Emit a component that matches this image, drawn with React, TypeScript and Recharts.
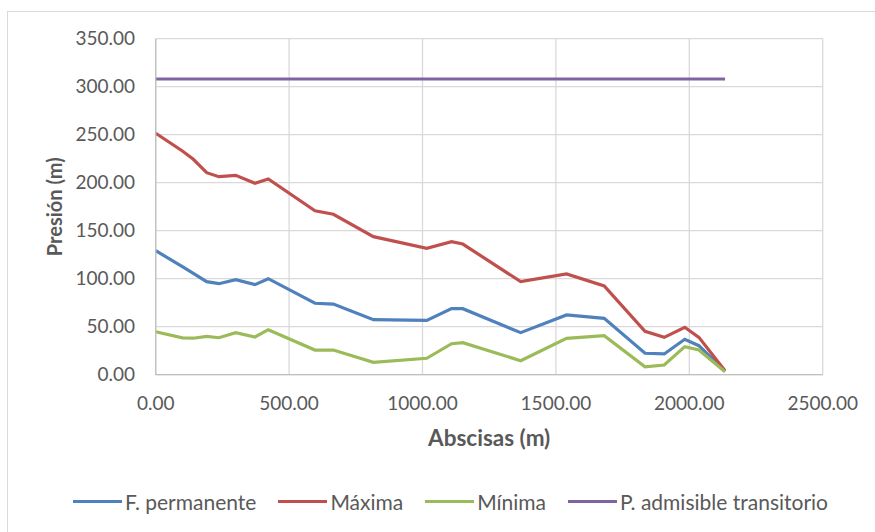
import { CartesianGrid, Legend, Line, LineChart, XAxis, YAxis } from 'recharts';

// abscisas en metros
const abscisas = [0, 100, 141, 191, 237, 300, 372, 422, 597, 666, 816, 1016, 1109, 1151, 1368, 1540, 1681, 1834, 1906, 1983, 2036, 2134];
const permanente = [129.2, 112.5, 105.5, 96.9, 94.8, 99.0, 93.8, 100.0, 74.4, 73.6, 57.3, 56.6, 68.8, 68.8, 43.8, 62.2, 58.7, 22.3, 21.6, 36.9, 30.2, 3.5];
const maxima = [251.5, 233.0, 224.4, 210.4, 206.3, 207.7, 199.4, 203.9, 170.8, 167.1, 143.8, 131.7, 138.5, 136.1, 96.9, 104.9, 92.4, 45.2, 38.9, 49.4, 38.9, 4.2];
const minima = [44.8, 38.4, 38.0, 40.0, 38.5, 43.8, 39.3, 46.9, 25.7, 25.7, 12.9, 17.1, 32.3, 33.3, 14.6, 37.9, 40.6, 8.3, 10.1, 29.2, 25.7, 3.0];
const admisible = [308, 308, 308, 308, 308, 308, 308, 308, 308, 308, 308, 308, 308, 308, 308, 308, 308, 308, 308, 308, 308, 308];

const xTicks = [0, 500, 1000, 1500, 2000, 2500];
const yTicks = [0, 50, 100, 150, 200, 250, 300, 350];

const series = [
  { key: 'permanente', name: 'F. permanente', color: '#4F81BD' },
  { key: 'maxima', name: 'Máxima', color: '#C0504D' },
  { key: 'minima', name: 'Mínima', color: '#9BBB59' },
  { key: 'admisible', name: 'P. admisible transitorio', color: '#8064A2' },
];

const data = abscisas.map((x, i) => ({
  x,
  permanente: permanente[i],
  maxima: maxima[i],
  minima: minima[i],
  admisible: admisible[i],
}));

const FONT = 'Lato, "Open Sans", sans-serif';
const TEXT = '#595959';

function Leyenda() {
  return (
    <div style={{ display: 'flex', alignItems: 'center', paddingLeft: 73, fontFamily: FONT, fontSize: 21, color: TEXT }}>
      {series.map((s) => (
        <span key={s.key} style={{ display: 'flex', alignItems: 'center', marginRight: 22 }}>
          <span style={{ display: 'inline-block', width: 49, height: 3, background: s.color, marginRight: 3 }} />
          {s.name}
        </span>
      ))}
    </div>
  );
}

export default function App() {
  return (
    <div style={{ position: 'absolute', left: 0, top: 0, width: 875, height: 532, background: '#fff' }}>
      <div
        style={{
          position: 'absolute',
          left: 7,
          top: 11,
          width: 900,
          height: 560,
          borderLeft: '1px solid #D9D9D9',
          borderTop: '1px solid #D9D9D9',
        }}
      />
      <div style={{ position: 'absolute', left: 0, top: 0 }}>
        <LineChart width={875} height={532} data={data} margin={{ top: 38.7, right: 52.3, left: 0, bottom: 0 }}>
          <CartesianGrid stroke="#D9D9D9" strokeWidth={1.3} />
          <XAxis
            dataKey="x"
            type="number"
            domain={[0, 2500]}
            ticks={xTicks}
            tickFormatter={(v: number) => v.toFixed(2)}
            height={157.3}
            tickLine={false}
            tickSize={0}
            tickMargin={22}
            axisLine={{ stroke: '#BFBFBF', strokeWidth: 1.3 }}
            tick={{ fill: TEXT, fontSize: 19, fontFamily: FONT }}
            label={{ value: 'Abscisas (m)', position: 'center', dy: -15, fill: TEXT, fontSize: 22.5, fontWeight: 700, fontFamily: FONT }}
          />
          <YAxis
            type="number"
            domain={[0, 350]}
            ticks={yTicks}
            tickFormatter={(v: number) => v.toFixed(2)}
            width={155.7}
            tickLine={false}
            tickSize={0}
            tickMargin={20.7}
            axisLine={{ stroke: '#BFBFBF', strokeWidth: 1.3 }}
            tick={{ fill: TEXT, fontSize: 19, fontFamily: FONT }}
            label={{ value: 'Presión (m)', position: 'center', angle: -90, dx: -23, fill: TEXT, fontSize: 20, fontWeight: 700, fontFamily: FONT }}
          />
          {series.map((s) => (
            <Line
              key={s.key}
              dataKey={s.key}
              name={s.name}
              stroke={s.color}
              strokeWidth={3.2}
              dot={false}
              isAnimationActive={false}
            />
          ))}
          <Legend
            layout="horizontal"
            verticalAlign="middle"
            align="center"
            wrapperStyle={{ top: 489, left: 0, width: 875 }}
            content={() => <Leyenda />}
          />
        </LineChart>
      </div>
    </div>
  );
}
